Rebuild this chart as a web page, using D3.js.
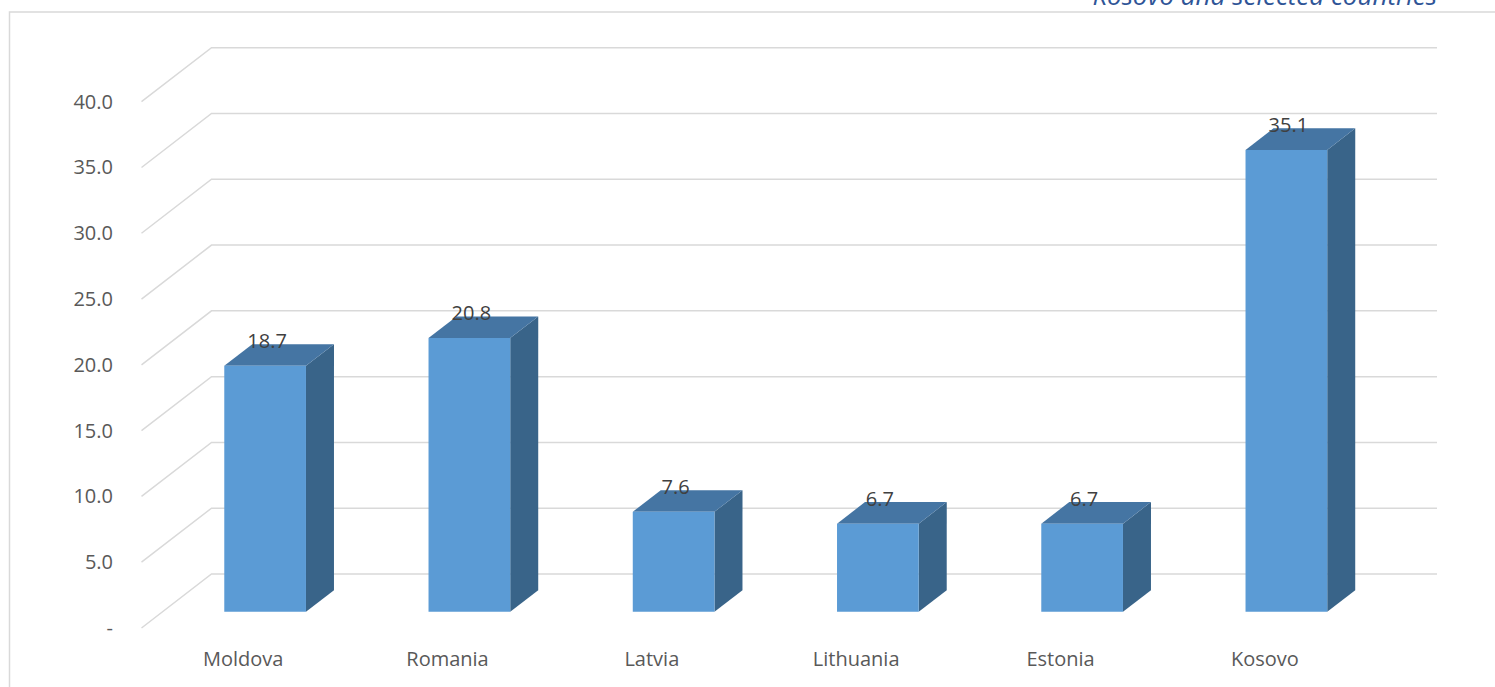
<!DOCTYPE html>
<html>
<head>
<meta charset="utf-8">
<script src="https://cdn.jsdelivr.net/npm/d3@7"></script>
<style>
  html, body { margin: 0; padding: 0; background: #fff; }
  svg { display: block; }
</style>
</head>
<body>
<svg id="chart" width="1495" height="687"></svg>
<script>
// Values shown on the chart
const countries = ["Moldova", "Romania", "Latvia", "Lithuania", "Estonia", "Kosovo"];
const values = [18.7, 20.8, 7.6, 6.7, 6.7, 35.1];
const yTicks = [0, 5, 10, 15, 20, 25, 30, 35, 40];
const titleText = "Kosovo and selected countries";

const W = 1495, H = 687;
const svg = d3.select("#chart");
svg.append("rect").attr("width", W).attr("height", H).attr("fill", "#fff");

// 3D projection: depth t in [0,1] shifts a point right and up
const depthDx = 70, depthDy = 54;
const proj = (x, y, t) => [x + depthDx * t, y - depthDy * t];

// Front-plane scales
const y = d3.scaleLinear().domain([0, 40]).range([628, 101.7]);
const x = d3.scaleBand().domain(countries).range([142, 1367.5])
  .paddingInner(0.6).paddingOuter(0.3);
const xLabel = d3.scaleBand().domain(countries).range([141, 1367]);

// Outer frame
svg.append("path")
  .attr("d", `M9.5,${H} L9.5,12 L${W},12`)
  .attr("fill", "none").attr("stroke", "#d9d9d9").attr("stroke-width", 1.5);

// Title (top right, runs past the top edge)
svg.append("text")
  .attr("x", 1437).attr("y", 5)
  .attr("text-anchor", "end")
  .attr("font-family", "'Open Sans', sans-serif")
  .attr("font-style", "italic")
  .attr("font-size", 26)
  .attr("fill", "#2F5597")
  .text(titleText);

// Gridlines: side wall diagonal + back wall horizontal
const grid = svg.append("g").attr("fill", "none").attr("stroke", "#d9d9d9").attr("stroke-width", 1.5);
yTicks.forEach(v => {
  const [x0, y0] = proj(141.5, y(v), 0);
  const [x1, y1] = proj(141.5, y(v), 1);
  const [x2, y2] = proj(1367, y(v), 1);
  grid.append("path").attr("d", `M${x0},${y0} L${x1},${y1} L${x2},${y2}`);
});

// Y-axis labels
svg.append("g")
  .selectAll("text").data(yTicks).join("text")
  .attr("x", 113).attr("y", d => y(d))
  .attr("dy", "0.35em")
  .attr("text-anchor", "end")
  .attr("font-family", "'Open Sans', sans-serif")
  .attr("font-size", 20)
  .attr("fill", "#595959")
  .text(d => d === 0 ? "-" : d.toFixed(1));

// Bars: front face at depth 0.3, back at 0.7
const tf = 0.3, tb = 0.7;
const colFront = "#5B9BD5", colTop = "#4575A3", colSide = "#396489";
const bars = svg.append("g");
countries.forEach((c, i) => {
  const v = values[i];
  const xl = x(c), xr = x(c) + x.bandwidth();
  const yb = y(0), yt = y(v);
  const p = (xx, yy, t) => proj(xx, yy, t).join(",");
  // side face
  bars.append("path")
    .attr("d", `M${p(xr, yb, tf)} L${p(xr, yb, tb)} L${p(xr, yt, tb)} L${p(xr, yt, tf)} Z`)
    .attr("fill", colSide);
  // top face
  bars.append("path")
    .attr("d", `M${p(xl, yt, tf)} L${p(xr, yt, tf)} L${p(xr, yt, tb)} L${p(xl, yt, tb)} Z`)
    .attr("fill", colTop);
  // front face
  bars.append("path")
    .attr("d", `M${p(xl, yb, tf)} L${p(xr, yb, tf)} L${p(xr, yt, tf)} L${p(xl, yt, tf)} Z`)
    .attr("fill", colFront);
  // value label
  const [cx, cy] = proj((xl + xr) / 2, yt, tf);
  bars.append("text")
    .attr("x", cx + 2).attr("y", cy - 18)
    .attr("text-anchor", "middle")
    .attr("font-family", "'Open Sans', sans-serif")
    .attr("font-size", 20)
    .attr("fill", "#404040")
    .text(v.toFixed(1));
});

// Category labels
svg.append("g")
  .selectAll("text").data(countries).join("text")
  .attr("x", d => xLabel(d) + xLabel.bandwidth() / 2)
  .attr("y", 666)
  .attr("text-anchor", "middle")
  .attr("font-family", "'Open Sans', sans-serif")
  .attr("font-size", 20)
  .attr("fill", "#595959")
  .text(d => d);
</script>
</body>
</html>
